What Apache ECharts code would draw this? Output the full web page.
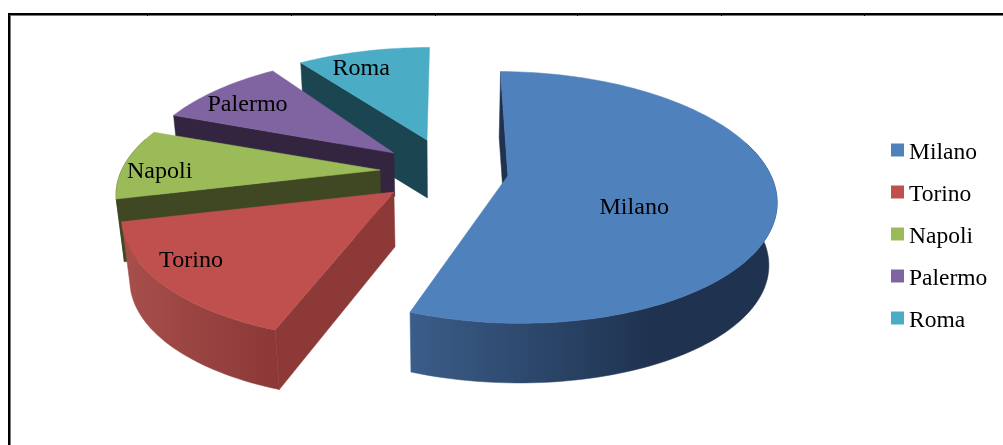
<!DOCTYPE html>
<html><head><meta charset="utf-8">
<style>html,body{margin:0;padding:0;background:#fff}#c{width:1003px;height:445px}</style>
<script src="https://cdn.jsdelivr.net/npm/echarts@6/dist/echarts.min.js"></script>
</head><body><div id="c"></div>
<script>
const categories = ['Milano','Torino','Napoli','Palermo','Roma'];
const values = [56,15,9,10,10];
const topColors = ['#4f81bd','#c0504d','#9bbb59','#8064a2','#4bacc6'];
const faceColors = ['#1f3350','#8c3938','#3f4723','#33253f','#1c4552'];
const wallLeft = ['#3b5d89','#a64e4a','#3f4723','#33253f','#1c4552'];
const wallRight = ['#1f3350','#8c3938','#3f4723','#33253f','#1c4552'];
const wallRange = [[410,650],[130,270],[0,1],[0,1],[0,1]];
const layerOrder = [6,5,4,3,2];
const explode = [0.24,0.259,0.245,0.246,0.272];
const explodeTilt = [0,-2.9,-2.3,0,2.4];
const radiusScale = [0.985,0.975,0.975,0.975,0.985];
const aspect = [1.025,1,1,1.03,1];
const depthScale = [1,1,1,0.68,0.9];
const apexDepth = [1,0.87,1,1,1];
const startTrim = [0,-2,0,2,0];
const endTrim = [-1.6,0.5,1.6,0.5,-0.5];
const labelSpanFrac = [0.6,0.58,0.376,0.46,0.37];
const labelRadius = [0.52,0.85,0.85,0.795,0.796];
const frameTicks = [147,291,435,577,721,864];
const LABEL_FONT = '22.5px "Liberation Serif","Times New Roman",serif';
const firstAngle = 0.5, OX = 445, OY = 170, RX = 265, RY = 119, K = 0.17, DEPTH = 63.5, SHRINK = 0.975;

const total = values.reduce((a,b)=>a+b,0);
function project(u,v,depth){
  const s = 1-(1-SHRINK)*depth, w = 1 + K*v;
  return [OX + s*RX*u/w, OY + depth*DEPTH - s*RY*v/w];
}
function renderSlice(i){
  let a0 = firstAngle;
  for(let j=0;j<i;j++) a0 += values[j]/total*360;
  const span = values[i]/total*360, rad = d=>d*Math.PI/180;
  const mid = rad(a0+span/2+explodeTilt[i]), au = explode[i]*Math.sin(mid), av = explode[i]*Math.cos(mid);
  const a1 = a0+span+endTrim[i], a00 = a0+startTrim[i], r = radiusScale[i], d = depthScale[i], ry = r*aspect[i];
  const rim = t=>[au+r*Math.sin(rad(t)),av+ry*Math.cos(rad(t))];
  const arc = [], front = [];
  for(let t=a00;t<a1;t+=1.5){ arc.push(rim(t)); if(Math.cos(rad(t))<0.3) front.push(rim(t)); }
  arc.push(rim(a1));
  if(Math.cos(rad(a1))<0.3) front.push(rim(a1));
  const P = (p,l)=>project(p[0],p[1],l);
  const apex=[au,av];
  const top=[P(apex,0)].concat(arc.map(p=>P(p,0)));
  const wall=front.map(p=>P(p,0)).concat(front.slice().reverse().map(p=>P(p,d)));
  const face=[P(apex,0),P(arc[0],0),P(arc[0],d),P(apex,d*apexDepth[i])];
  const lt=rad(a00+(a1-a00)*labelSpanFrac[i]);
  const lp=P([au+r*labelRadius[i]*Math.sin(lt),av+r*labelRadius[i]*Math.cos(lt)],0);
  const grad={type:'linear',global:true,x:wallRange[i][0],y:0,x2:wallRange[i][1],y2:0,
    colorStops:[{offset:0,color:wallLeft[i]},{offset:1,color:wallRight[i]}]};
  const kids=[];
  if(front.length>1) kids.push({type:'polygon',shape:{points:wall},style:{fill:grad,stroke:grad,lineWidth:0.5}});
  kids.push(
    {type:'polygon',shape:{points:face},style:{fill:faceColors[i],stroke:faceColors[i],lineWidth:0.5}},
    {type:'polygon',shape:{points:top},style:{fill:topColors[i],stroke:topColors[i],lineWidth:0.5}},
    {type:'text',x:lp[0],y:lp[1],scaleX:1.07,style:{text:categories[i],x:0,y:0,fill:'#000',font:LABEL_FONT,textAlign:'center',textVerticalAlign:'middle'}}
  );
  return {type:'group',children:kids};
}
const chart = echarts.init(document.getElementById('c'),null,{renderer:'canvas'});
chart.setOption({
  animation:false,
  backgroundColor:'#fff',
  legend:{
    orient:'vertical',left:886,top:130.5,data:categories,icon:'rect',itemWidth:13,itemHeight:13,itemGap:13,
    selectedMode:false,
    formatter:name=>`{a|${name}}`,
    textStyle:{rich:{a:{fontFamily:'Liberation Serif',fontSize:23.5,color:'#000',lineHeight:24,padding:[5,0,0,0]}}}
  },
  graphic:[
    {type:'line',silent:true,shape:{x1:9,y1:15.5,x2:1003,y2:15.5},style:{stroke:'#777',lineWidth:1}},
    {type:'line',silent:true,shape:{x1:10.5,y1:15,x2:10.5,y2:445},style:{stroke:'#777',lineWidth:1}},
    {type:'rect',silent:true,shape:{x:9,y:14,width:1100,height:600},style:{fill:'none',stroke:'#000',lineWidth:2}}
  ].concat(frameTicks.map(x=>({type:'line',silent:true,shape:{x1:x+0.5,y1:15,x2:x+0.5,y2:16},style:{stroke:'#000',lineWidth:1}}))),
  series:categories.map((name,i)=>({
    type:'custom',name,coordinateSystem:'none',silent:true,z:layerOrder[i],
    itemStyle:{color:topColors[i]},
    data:[values[i]],
    renderItem:()=>renderSlice(i)
  }))
});
</script></body></html>
